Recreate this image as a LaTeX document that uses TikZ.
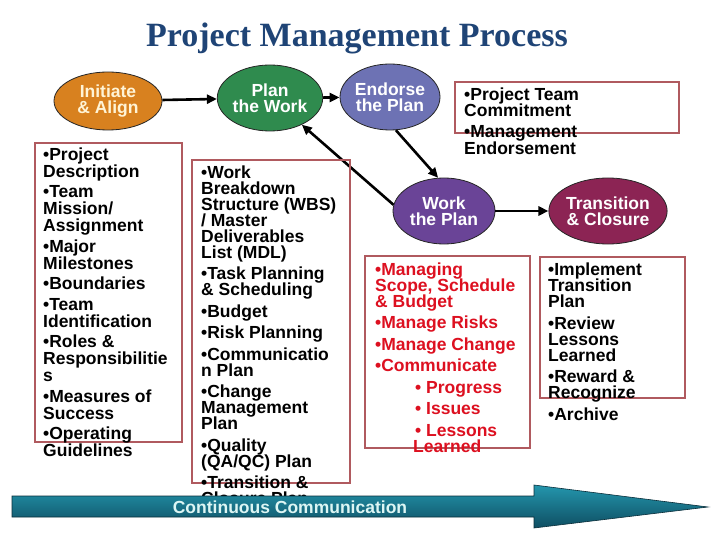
\documentclass[tikz,border=0pt]{standalone}
\usepackage{fontspec}
\setmainfont{Liberation Sans}
\newfontfamily\titlefont{Liberation Serif}
\usetikzlibrary{shapes.geometric,arrows.meta}
\newcommand\tightlines{\setlength{\lineskiplimit}{-100pt}\setlength{\lineskip}{0pt}}
\newcommand\bubblefont{\bfseries\fontsize{17.5}{15.5}\selectfont\tightlines}
\newcommand\listfont{\bfseries\fontsize{17.5}{16}\selectfont\tightlines}
\newcommand\listfontA{\bfseries\fontsize{17.5}{17}\selectfont\tightlines}
\newcommand\listfontB{\bfseries\fontsize{17.5}{16.5}\selectfont\tightlines}
\definecolor{titleblue}{HTML}{1F4476}
\definecolor{orangec}{HTML}{D8811F}
\definecolor{creamc}{HTML}{FFF4D6}
\definecolor{greenc}{HTML}{2F8B4E}
\definecolor{bluec}{HTML}{6D72B4}
\definecolor{purplec}{HTML}{6A4497}
\definecolor{maroonc}{HTML}{8C2454}
\definecolor{boxred}{HTML}{B05A5F}
\definecolor{redtext}{HTML}{DD1020}
\definecolor{tealtop}{HTML}{2496AD}
\definecolor{tealmid}{HTML}{1E859C}
\definecolor{tealbot}{HTML}{0E4E62}
\definecolor{tealline}{HTML}{0A2E3A}
\definecolor{arrowtext}{HTML}{DDF6F4}
\begin{document}
\begin{tikzpicture}[x=1pt,y=-1pt,
  bubble/.style={ellipse, draw=black!85, line width=0.8pt, minimum width=100pt,
    minimum height=66pt, inner sep=0pt, text=white, align=center,
    font=\bubblefont},
  listbox/.style={draw=boxred, line width=2.5pt},
  listtext/.style={anchor=north west, align=left, inner sep=0pt,
    font=\listfont},
  flow/.style={line width=2.6pt, -{Triangle[length=10pt,width=9pt]}}]
\useasboundingbox (0,0) rectangle (720,540);
\fill[white] (0,0) rectangle (720,540);

% title
\node[font=\titlefont\bfseries\fontsize{34}{34}\selectfont, text=titleblue,
  anchor=base, inner sep=0pt] (title) at (357,47) {Project Management Process};

% process ellipses
\node[bubble, fill=orangec, text=creamc, minimum width=108pt, minimum height=58pt]
  (init) at (108,101) {Initiate\\\& Align};
\node[bubble, fill=greenc] (plan) at (270,98) {Plan\\the Work};
\node[bubble, fill=bluec] (endorse) at (390,97) {Endorse\\the Plan};
\node[bubble, fill=purplec, minimum width=102pt] (work) at (444,211) {Work\\the Plan};
\node[bubble, fill=maroonc] (trans) at (608,211) {Transition\\\& Closure};

% connectors
\draw[flow] (init) -- (plan);
\draw[flow] (plan) -- (endorse);
\draw[flow] (endorse.-80) -- (work.100);
\draw[flow] (work.173) -- (plan.-40);
\draw[flow] (work) -- (trans);

% boxes
\draw[listbox] (35,143) rectangle (182,442);
\draw[listbox] (192,160) rectangle (350,483);
\draw[listbox] (455,82) rectangle (679,133);
\draw[listbox] (365,256) rectangle (530,448);
\draw[listbox] (540,257) rectangle (685,398);

% box texts
\node[listtext, font=\listfontA] (t1) at (43,147.5) {%
•Project\\Description\\[3.5pt]
•Team\\Mission/\\Assignment\\[3.5pt]
•Major\\Milestones\\[3.5pt]
•Boundaries\\[3.5pt]
•Team\\Identification\\[3.5pt]
•Roles \&\\Responsibilitie\\s\\[3.5pt]
•Measures of\\Success\\[3.5pt]
•Operating\\Guidelines};

\node[listtext] (t2) at (201,165.5) {%
•Work\\Breakdown\\Structure (WBS)\\/ Master\\Deliverables\\List (MDL)\\[5.5pt]
•Task Planning\\\& Scheduling\\[5.5pt]
•Budget\\[5.5pt]
•Risk Planning\\[5.5pt]
•Communicatio\\n Plan\\[5.5pt]
•Change\\Management\\Plan\\[5.5pt]
•Quality\\(QA/QC) Plan\\[5.5pt]
•Transition \&\\Closure Plan};

\node[listtext, font=\listfontB] (t3) at (464,87.5) {%
•Project Team\\Commitment\\[4.5pt]
•Management\\Endorsement};

\node[listtext, text=redtext] (t4) at (375,262.5) {%
•Managing\\Scope, Schedule\\\& Budget\\[5.5pt]
•Manage Risks\\[5.5pt]
•Manage Change\\[5.5pt]
•Communicate\\[5.5pt]
\hspace*{40pt}• Progress\\[5.5pt]
\hspace*{40pt}• Issues\\[5.5pt]
\hspace*{40pt}• Lessons\\
\hspace*{38pt}Learned};

\node[listtext] (t5) at (548,262.5) {%
•Implement\\Transition\\Plan\\[5.7pt]
•Review\\Lessons\\Learned\\[5.7pt]
•Reward \&\\Recognize\\[5.7pt]
•Archive};

% continuous communication arrow
\path[draw=tealline, line width=0.6pt, top color=tealtop, middle color=tealmid, bottom color=tealbot]
  (12,496) -- (534,496) -- (534,485) -- (708,507) -- (534,528) -- (534,517)
  -- (12,517) -- cycle;
\node[anchor=base, inner sep=0pt, text=arrowtext,
  font=\bfseries\fontsize{17.5}{17.5}\selectfont] (cc) at (290,513) {Continuous Communication};
\end{tikzpicture}
\end{document}
